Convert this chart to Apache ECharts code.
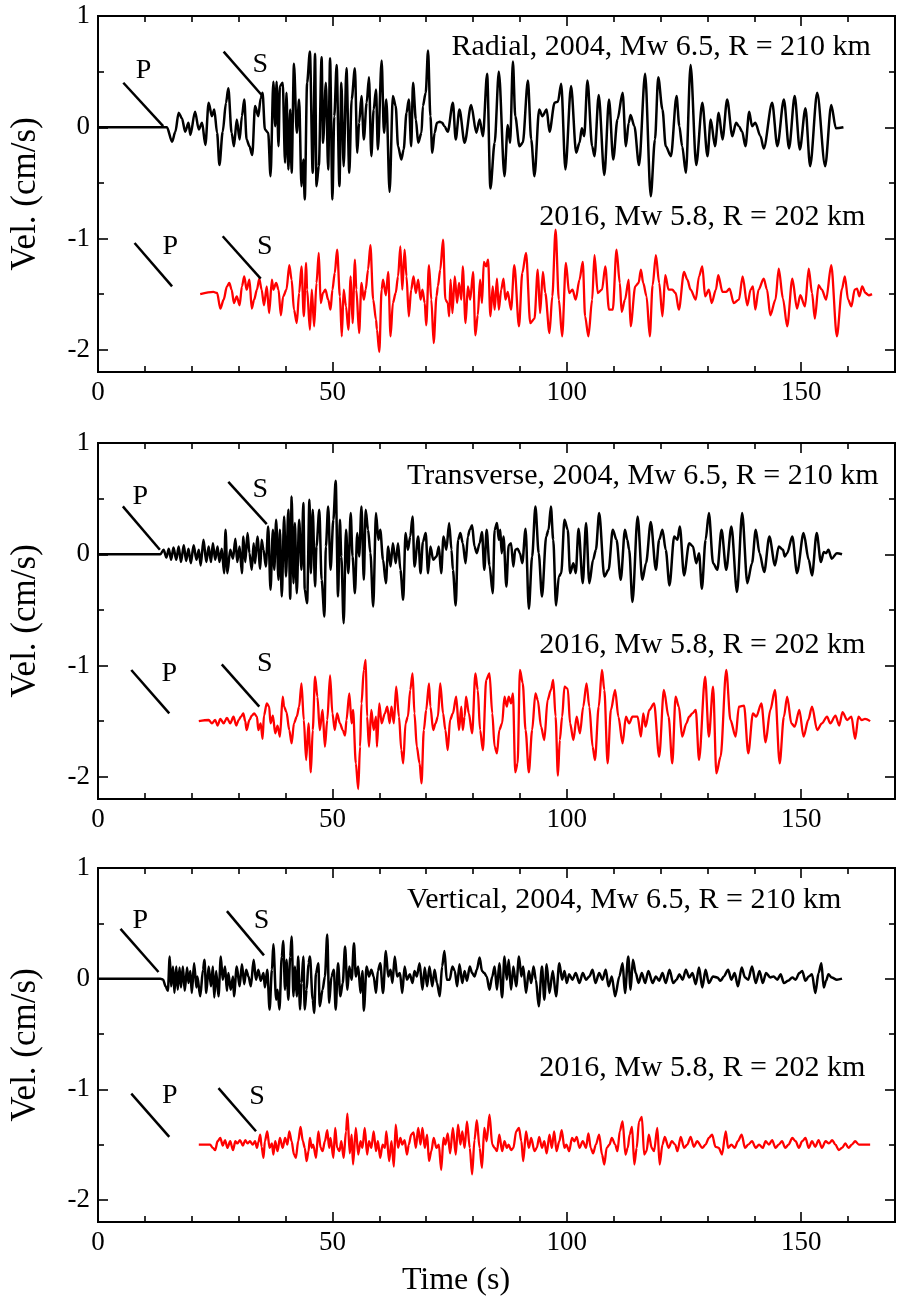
<!DOCTYPE html>
<html><head><meta charset="utf-8">
<script src="https://cdn.jsdelivr.net/npm/echarts@6/dist/echarts.min.js"></script>
<style>html,body{margin:0;padding:0;background:#fff}#c{width:898px;height:1303px}</style>
</head><body><div id="c"></div>
<script>
// ---- tick values ----
const xTicks = [0, 50, 100, 150];
const xMinor = [10, 20, 30, 40, 60, 70, 80, 90, 110, 120, 130, 140, 160];
const yTicks = [-2, -1, 0, 1];
const yMinor = [-1.5, -0.5, 0.5];

// ---- traces [time (s), velocity (cm/s)] ----
const radial04 = [[0,0],[14.7,0],[15.8,-0.13],[16.5,-0.04],[17.2,0.13],[17.9,0.08],[18.6,-0.04],[19.3,0.04],[19.7,-0.07],[20.7,0.14],[21.5,-0.02],[22.2,0.04],[22.9,-0.16],[23.6,0.22],[24.3,0.10],[24.8,0.16],[25.4,-0.05],[25.9,-0.34],[26.6,-0.04],[27.3,0.22],[27.8,0.35],[28.5,-0.05],[29.0,-0.17],[29.6,0.07],[30.2,-0.11],[30.7,0.10],[31.2,0.25],[31.7,-0.11],[32.3,-0.17],[32.9,-0.25],[33.5,0.19],[34.2,0.10],[34.7,0.26],[35.1,0.31],[35.6,-0.02],[36.3,-0.05],[36.8,-0.44],[37.4,0.41],[37.8,0.01],[38.1,0.41],[38.5,-0.17],[38.8,0.37],[39.4,0.40],[39.9,-0.32],[40.2,0.31],[40.6,-0.38],[41.0,0.16],[41.3,-0.41],[41.8,0.57],[42.4,-0.05],[42.9,0.25],[43.4,-0.53],[43.8,-0.29],[44.1,-0.65],[44.6,0.40],[45.2,0.68],[45.8,-0.41],[46.3,0.66],[46.6,-0.53],[47.1,-0.35],[47.7,0.63],[48.0,-0.14],[48.6,0.40],[49.1,-0.38],[49.5,0.62],[50.0,-0.65],[50.4,0.10],[50.9,0.56],[51.5,-0.53],[51.9,0.40],[52.4,-0.35],[53.0,0.53],[53.6,-0.41],[54.1,0.25],[54.8,0.53],[55.3,-0.23],[55.7,0.04],[56.2,0.28],[56.7,-0.11],[57.3,0.22],[57.8,0.45],[58.3,-0.26],[58.8,0.16],[59.3,0.34],[59.7,-0.20],[60.5,0.60],[61.0,-0.05],[61.5,0.25],[62.2,-0.58],[62.9,0.28],[63.5,0.19],[64.0,-0.17],[64.7,-0.29],[65.2,-0.20],[65.8,0.13],[66.3,0.25],[66.8,-0.17],[67.2,0.40],[67.8,0.07],[68.3,-0.14],[69.0,-0.05],[69.3,0.19],[69.9,0.31],[70.4,0.69],[70.9,0.10],[71.3,-0.23],[71.8,-0.05],[72.3,0.04],[72.9,0.05],[73.4,0.04],[73.9,0.01],[74.6,-0.04],[75.7,0.22],[76.3,-0.11],[77.1,0.16],[78.2,-0.14],[79.6,0.20],[80.7,-0.05],[81.4,0.07],[82.1,-0.08],[83.0,0.48],[83.7,-0.55],[84.6,-0.14],[85.5,0.50],[86.7,-0.44],[87.4,0.02],[87.9,-0.14],[88.5,0.59],[89.0,0.10],[89.9,-0.17],[90.6,-0.14],[91.7,0.42],[92.4,-0.11],[93.1,-0.44],[94.1,0.16],[94.8,0.10],[95.7,0.16],[96.3,-0.04],[97.4,0.22],[98.1,0.23],[98.8,0.39],[99.7,-0.38],[100.9,0.37],[102.0,-0.23],[102.7,-0.14],[103.2,-0.01],[103.7,-0.08],[104.4,0.42],[105.4,-0.17],[105.9,-0.26],[106.8,0.29],[108.0,-0.43],[109.0,0.25],[109.9,-0.29],[110.8,0.07],[111.9,0.31],[112.6,-0.17],[113.2,0.04],[113.6,0.11],[114.4,0.01],[115.4,-0.34],[116.7,0.48],[117.9,-0.62],[118.8,-0.11],[119.5,0.45],[120.4,0.16],[121.1,-0.17],[122.2,-0.26],[123.4,0.28],[124.0,0.01],[124.6,-0.17],[125.4,-0.41],[126.4,0.56],[127.6,-0.34],[128.9,0.22],[130.0,-0.26],[130.7,0.07],[131.6,-0.17],[132.4,0.13],[133.2,-0.11],[134.2,0.25],[135.3,-0.08],[136.1,0.04],[136.7,0.01],[137.4,-0.04],[138.1,-0.17],[138.9,0.14],[139.5,0.01],[140.2,0.04],[141.3,-0.08],[142.0,-0.19],[143.8,0.22],[144.9,-0.17],[146.3,0.25],[147.4,-0.19],[148.6,0.28],[149.7,-0.20],[150.9,0.17],[151.9,-0.35],[153.4,0.31],[155.1,-0.35],[156.4,0.20],[157.4,-0.01],[159.0,0]];

const radial16 = [[21.8,-1.50],[24.6,-1.48],[25.4,-1.49],[26.1,-1.63],[26.8,-1.55],[27.5,-1.43],[28.0,-1.40],[28.5,-1.46],[29.0,-1.58],[29.6,-1.52],[30.2,-1.60],[30.7,-1.43],[31.2,-1.34],[31.7,-1.46],[32.3,-1.37],[32.8,-1.63],[33.3,-1.55],[33.9,-1.46],[34.4,-1.36],[34.9,-1.46],[35.4,-1.60],[36.0,-1.43],[36.5,-1.67],[37.1,-1.37],[37.4,-1.46],[38.0,-1.40],[38.5,-1.46],[39.0,-1.69],[39.5,-1.52],[40.2,-1.46],[40.8,-1.24],[41.3,-1.37],[41.8,-1.64],[42.4,-1.76],[42.9,-1.49],[43.4,-1.25],[43.9,-1.70],[44.4,-1.22],[44.6,-1.46],[45.2,-1.82],[45.6,-1.46],[46.1,-1.79],[46.6,-1.40],[47.1,-1.13],[47.5,-1.58],[48.0,-1.49],[48.5,-1.46],[49.1,-1.55],[49.6,-1.64],[50.0,-1.46],[50.5,-1.31],[51.0,-1.10],[51.6,-1.52],[52.0,-1.88],[52.4,-1.46],[52.9,-1.61],[53.4,-1.82],[53.9,-1.34],[54.3,-1.76],[54.8,-1.19],[55.1,-1.46],[55.7,-1.85],[56.2,-1.40],[56.7,-1.55],[57.1,-1.46],[57.6,-1.28],[58.1,-1.06],[58.7,-1.55],[59.3,-1.73],[59.5,-1.82],[60.0,-2.02],[60.5,-1.46],[60.8,-1.37],[61.4,-1.51],[61.9,-1.30],[62.4,-1.88],[62.9,-1.58],[63.5,-1.49],[64.0,-1.34],[64.5,-1.07],[64.9,-1.46],[65.4,-1.10],[65.8,-1.34],[66.3,-1.70],[66.8,-1.46],[67.3,-1.34],[67.8,-1.49],[68.3,-1.37],[68.8,-1.55],[69.2,-1.46],[69.7,-1.58],[70.0,-1.78],[70.6,-1.24],[71.1,-1.55],[71.6,-1.94],[72.2,-1.52],[72.5,-1.43],[73.0,-1.28],[73.6,-1.01],[74.1,-1.55],[74.6,-1.58],[74.9,-1.70],[75.2,-1.37],[75.6,-1.67],[76.1,-1.34],[76.6,-1.58],[77.0,-1.40],[77.5,-1.55],[77.8,-1.25],[78.4,-1.76],[78.9,-1.43],[79.4,-1.55],[80.0,-1.30],[80.5,-1.87],[81.0,-1.69],[81.5,-1.37],[81.9,-1.58],[82.3,-1.21],[82.8,-1.25],[83.2,-1.19],[83.7,-1.70],[84.2,-1.43],[84.6,-1.64],[85.1,-1.36],[85.5,-1.64],[86.0,-1.46],[86.5,-1.36],[86.9,-1.55],[87.4,-1.48],[88.1,-1.64],[88.8,-1.24],[89.8,-1.79],[90.5,-1.31],[91.3,-1.13],[92.2,-1.76],[93.1,-1.72],[93.8,-1.28],[94.3,-1.67],[94.9,-1.30],[95.4,-1.49],[96.3,-1.85],[96.9,-1.52],[97.6,-0.92],[98.3,-1.55],[99.0,-1.88],[99.8,-1.22],[100.5,-1.49],[101.2,-1.46],[101.9,-1.55],[102.7,-1.37],[103.4,-1.21],[103.9,-1.70],[104.6,-1.88],[105.4,-1.55],[105.9,-1.15],[106.6,-1.49],[107.5,-1.46],[108.2,-1.25],[109.0,-1.64],[109.8,-1.64],[110.6,-1.10],[111.3,-1.40],[111.7,-1.66],[112.4,-1.55],[113.2,-1.37],[113.6,-1.79],[114.6,-1.43],[115.3,-1.40],[115.8,-1.28],[116.3,-1.40],[117.0,-1.52],[117.7,-1.88],[118.3,-1.42],[119.0,-1.15],[119.7,-1.40],[120.4,-1.70],[121.0,-1.33],[121.7,-1.46],[122.5,-1.46],[123.2,-1.49],[123.9,-1.64],[125.0,-1.30],[125.7,-1.37],[126.4,-1.46],[127.5,-1.55],[128.2,-1.34],[128.9,-1.25],[129.5,-1.52],[130.3,-1.46],[130.9,-1.58],[131.8,-1.46],[132.3,-1.33],[133.2,-1.48],[134.0,-1.48],[134.7,-1.45],[135.6,-1.58],[136.7,-1.55],[137.5,-1.34],[138.5,-1.60],[139.2,-1.46],[139.7,-1.43],[140.2,-1.64],[140.9,-1.46],[142.0,-1.36],[142.7,-1.46],[143.4,-1.69],[144.5,-1.55],[145.2,-1.27],[146.1,-1.54],[147.0,-1.79],[148.1,-1.36],[149.1,-1.63],[149.8,-1.51],[150.8,-1.61],[151.6,-1.27],[152.3,-1.49],[152.9,-1.72],[153.7,-1.42],[154.4,-1.46],[155.3,-1.55],[156.4,-1.24],[157.6,-1.88],[158.7,-1.45],[159.3,-1.34],[160.0,-1.55],[160.7,-1.61],[161.4,-1.46],[161.9,-1.45],[162.4,-1.52],[163.0,-1.43],[163.7,-1.49],[164.4,-1.51],[165.1,-1.50]];

const trans04 = [[0,0],[13.3,0],[14.0,0.04],[14.6,-0.03],[15.1,0.05],[15.6,-0.05],[16.1,0.06],[16.7,-0.05],[17.2,0.07],[17.7,-0.07],[18.3,0.08],[18.8,-0.06],[19.3,0.05],[19.8,-0.08],[20.4,0.08],[21.0,-0.05],[21.5,0.04],[21.9,-0.10],[22.5,0.13],[23.1,-0.07],[23.6,0.07],[24.1,-0.07],[24.5,0.10],[25.0,-0.05],[25.5,0.07],[25.9,-0.07],[26.4,0.05],[26.9,-0.17],[27.2,0.22],[27.6,-0.17],[28.2,0.04],[28.8,-0.04],[29.3,0.14],[29.7,-0.07],[30.2,0.07],[30.7,-0.17],[31.0,0.16],[31.4,-0.07],[31.9,0.19],[32.3,0.01],[32.8,-0.14],[33.2,0.10],[33.5,-0.08],[34.0,0.16],[34.6,-0.13],[34.9,0.13],[35.3,0.04],[35.8,-0.11],[36.3,0.25],[36.8,-0.32],[37.3,0.22],[37.6,-0.14],[38.0,0.31],[38.5,-0.23],[38.8,0.22],[39.2,-0.38],[39.7,0.34],[40.1,-0.20],[40.6,0.40],[41.0,-0.40],[41.3,0.52],[41.7,-0.26],[42.0,0.28],[42.4,-0.35],[42.9,0.31],[43.4,-0.14],[43.8,0.46],[44.1,-0.32],[44.6,-0.44],[45.1,0.49],[45.4,-0.17],[45.8,0.40],[46.3,-0.29],[46.6,0.07],[47.2,0.40],[47.7,-0.23],[48.3,-0.56],[48.6,0.07],[49.1,0.43],[49.6,-0.14],[50.2,0.31],[50.7,0.66],[51.2,-0.38],[51.6,0.31],[51.9,-0.02],[52.4,-0.62],[52.9,0.22],[53.4,-0.17],[53.9,0.37],[54.3,-0.02],[54.8,-0.35],[55.3,0.19],[55.7,-0.02],[56.2,0.43],[56.7,-0.23],[57.1,0.40],[57.6,0.22],[58.1,0.01],[58.7,-0.47],[59.3,0.37],[59.8,0.13],[60.2,0.22],[60.8,-0.05],[61.4,-0.26],[61.9,0.07],[62.4,-0.11],[62.9,0.10],[63.5,-0.08],[64.0,0.10],[64.5,-0.14],[65.1,-0.41],[65.6,0.19],[66.1,0.04],[66.6,0.16],[67.1,0.34],[67.5,-0.11],[68.3,0.16],[68.8,-0.17],[69.3,0.11],[69.9,0.19],[70.4,-0.17],[70.9,0.07],[71.5,-0.05],[72.2,-0.02],[72.7,0.07],[73.2,-0.17],[73.7,0.16],[74.3,0.04],[74.9,0.28],[75.4,0.04],[75.7,-0.14],[76.3,-0.46],[76.8,0.13],[77.3,0.19],[77.8,0.10],[78.4,-0.08],[78.9,0.16],[79.3,0.22],[79.8,0.26],[80.3,0.07],[80.8,0.01],[81.4,0.10],[81.9,0.20],[82.4,-0.14],[82.9,0.22],[83.5,-0.10],[84.2,-0.35],[84.6,0.22],[85.1,0.28],[85.5,0.13],[85.8,0.22],[86.1,0.01],[86.5,0.16],[87.1,-0.29],[87.6,0.08],[88.1,0.10],[88.6,-0.11],[89.0,0.04],[89.5,0.05],[90.0,0.01],[90.5,-0.08],[91.2,0.23],[91.9,-0.49],[92.6,-0.02],[93.3,0.43],[94.0,0.01],[94.7,-0.38],[95.6,0.16],[96.1,0.22],[96.6,0.43],[97.1,0.13],[97.7,-0.46],[98.3,-0.20],[98.8,-0.17],[99.5,0.31],[100.2,0.22],[100.7,-0.17],[101.4,-0.08],[101.9,-0.17],[102.5,0.23],[103.4,-0.26],[104.1,0.28],[104.8,-0.26],[105.6,-0.05],[106.2,0.04],[106.9,0.37],[108.0,-0.20],[108.9,-0.14],[109.8,0.22],[110.6,0.13],[111.5,-0.23],[112.4,0.22],[112.9,0.13],[113.3,0.04],[114.0,-0.43],[115.1,0.34],[116.1,-0.23],[116.9,-0.08],[117.9,0.29],[119.0,-0.14],[119.7,0.13],[120.4,0.22],[121.1,0.04],[121.9,-0.28],[122.9,0.16],[123.6,0.13],[124.1,0.25],[125.0,-0.19],[126.1,0.10],[126.9,0.07],[127.6,-0.08],[128.2,0.01],[128.8,-0.31],[129.6,0.13],[130.3,0.37],[131.2,-0.08],[132.1,-0.14],[133.0,0.22],[134.0,-0.14],[135.1,0.25],[136.3,-0.34],[137.4,0.37],[138.5,-0.26],[139.5,-0.08],[140.3,0.22],[141.1,0.01],[142.1,-0.16],[143.2,0.16],[144.4,-0.10],[145.2,0.07],[146.1,0.04],[146.5,-0.02],[147.0,0.01],[148.1,0.16],[149.1,-0.17],[150.5,0.19],[151.6,-0.05],[152.3,-0.19],[153.3,0.19],[154.2,-0.07],[154.8,0.02],[155.3,0.01],[155.8,0.04],[156.5,-0.04],[157.6,0.01],[158.7,0]];

const trans16 = [[21.5,-1.50],[23.6,-1.49],[24.3,-1.52],[25.0,-1.49],[25.5,-1.54],[26.1,-1.48],[26.8,-1.52],[27.5,-1.47],[28.2,-1.52],[28.9,-1.46],[29.5,-1.54],[30.0,-1.49],[30.5,-1.46],[31.0,-1.43],[31.4,-1.50],[31.7,-1.58],[32.3,-1.49],[32.8,-1.45],[33.3,-1.43],[33.9,-1.46],[34.2,-1.58],[34.7,-1.52],[35.1,-1.66],[35.4,-1.45],[36.0,-1.34],[36.5,-1.37],[36.8,-1.52],[37.3,-1.45],[37.8,-1.61],[38.3,-1.54],[38.8,-1.64],[39.4,-1.28],[39.7,-1.37],[40.2,-1.42],[40.8,-1.58],[41.3,-1.70],[41.8,-1.52],[42.4,-1.46],[42.9,-1.37],[43.4,-1.16],[43.9,-1.49],[44.4,-1.85],[44.9,-1.52],[45.4,-1.96],[45.8,-1.58],[46.3,-1.10],[46.8,-1.28],[47.3,-1.58],[47.9,-1.40],[48.4,-1.73],[48.9,-1.49],[49.5,-1.09],[50.0,-1.43],[50.5,-1.58],[51.0,-1.43],[51.6,-1.52],[52.2,-1.58],[52.7,-1.63],[53.0,-1.49],[53.6,-1.25],[54.1,-1.52],[54.4,-1.40],[55.0,-1.88],[55.5,-2.11],[55.9,-1.73],[56.2,-1.34],[56.7,-1.04],[57.1,-0.95],[57.4,-1.46],[57.8,-1.73],[58.3,-1.40],[58.8,-1.58],[59.3,-1.46],[59.5,-1.73],[60.0,-1.34],[60.5,-1.52],[61.2,-1.43],[61.7,-1.37],[62.2,-1.52],[62.6,-1.37],[63.1,-1.52],[63.6,-1.19],[64.2,-1.46],[64.7,-1.76],[65.1,-1.88],[65.6,-1.52],[66.1,-1.46],[66.6,-1.22],[67.1,-1.07],[67.5,-1.43],[68.0,-1.73],[68.6,-1.88],[69.0,-2.06],[69.5,-1.58],[70.0,-1.40],[70.6,-1.16],[70.9,-1.37],[71.5,-1.58],[72.0,-1.52],[72.5,-1.46],[73.0,-1.16],[73.6,-1.43],[74.1,-1.58],[74.6,-1.76],[75.1,-1.49],[75.7,-1.43],[76.4,-1.28],[77.0,-1.58],[77.5,-1.37],[77.8,-1.58],[78.2,-1.46],[78.5,-1.28],[79.1,-1.43],[79.8,-1.61],[80.5,-1.07],[81.0,-1.22],[81.5,-1.58],[82.1,-1.76],[82.8,-1.13],[83.5,-1.07],[84.1,-1.43],[84.6,-1.73],[85.1,-1.79],[85.6,-1.58],[86.2,-1.52],[86.7,-1.28],[87.2,-1.37],[87.6,-1.28],[88.1,-1.34],[88.5,-1.25],[89.0,-1.96],[89.5,-1.88],[90.0,-1.04],[90.6,-1.16],[91.2,-1.58],[91.9,-1.96],[92.6,-1.58],[93.3,-1.25],[93.8,-1.31],[94.5,-1.55],[95.2,-1.67],[95.9,-1.31],[96.6,-1.22],[97.1,-1.13],[97.6,-1.46],[98.1,-1.99],[98.5,-1.67],[99.0,-1.46],[99.5,-1.19],[100.2,-1.21],[100.7,-1.52],[101.4,-1.67],[102.1,-1.46],[102.8,-1.61],[103.5,-1.37],[104.2,-1.16],[104.8,-1.37],[105.5,-1.73],[106.0,-1.85],[106.8,-1.37],[107.5,-1.04],[108.0,-1.22],[108.7,-1.88],[109.4,-1.40],[110.3,-1.22],[111.0,-1.46],[111.9,-1.70],[112.6,-1.46],[113.3,-1.52],[114.0,-1.46],[115.1,-1.46],[115.8,-1.64],[116.3,-1.43],[116.8,-1.55],[117.6,-1.40],[118.6,-1.34],[119.7,-1.82],[120.7,-1.22],[121.7,-1.46],[122.5,-1.88],[123.2,-1.28],[123.9,-1.37],[124.6,-1.64],[125.5,-1.52],[126.1,-1.46],[126.8,-1.43],[127.5,-1.40],[128.2,-1.85],[129.5,-1.10],[130.3,-1.64],[131.2,-1.19],[131.9,-1.97],[132.8,-1.82],[134.0,-1.04],[134.9,-1.49],[136.0,-1.64],[136.7,-1.37],[137.8,-1.36],[138.7,-1.79],[139.7,-1.43],[140.4,-1.46],[141.5,-1.34],[142.4,-1.69],[143.4,-1.40],[144.4,-1.22],[145.4,-1.88],[146.3,-1.46],[147.0,-1.28],[147.9,-1.52],[148.6,-1.55],[149.6,-1.40],[150.5,-1.64],[151.5,-1.49],[152.3,-1.37],[153.4,-1.58],[154.4,-1.52],[155.5,-1.46],[156.2,-1.52],[157.3,-1.45],[158.1,-1.54],[158.8,-1.42],[159.8,-1.49],[160.7,-1.46],[161.5,-1.66],[162.2,-1.46],[162.9,-1.49],[163.6,-1.48],[164.7,-1.50]];

const vert04 = [[0,0],[13.3,0],[13.9,-0.01],[14.4,-0.07],[14.9,-0.11],[15.3,0.20],[15.6,-0.07],[16.0,0.11],[16.3,-0.13],[16.7,0.11],[17.0,-0.10],[17.4,0.10],[17.7,-0.08],[18.1,0.11],[18.5,-0.11],[19.0,0.10],[19.3,-0.04],[19.7,0.07],[20.0,-0.13],[20.5,0.14],[21.0,-0.08],[21.2,0.02],[21.8,-0.16],[22.4,0.08],[22.7,0.17],[23.1,-0.13],[23.6,0.11],[24.1,-0.07],[24.5,0.11],[24.8,-0.17],[25.2,0.07],[25.7,-0.16],[26.2,0.20],[26.6,-0.01],[27.1,0.11],[27.5,-0.11],[27.8,0.05],[28.3,-0.10],[28.8,0.02],[29.0,-0.16],[29.6,0.11],[30.2,-0.07],[30.7,0.13],[31.2,-0.05],[31.6,0.08],[32.1,0.02],[32.6,-0.07],[33.2,0.17],[33.7,-0.01],[34.2,0.08],[34.7,-0.02],[35.3,0.05],[35.6,-0.08],[36.1,0.08],[36.6,-0.28],[37.1,0.08],[37.4,0.31],[38.0,-0.19],[38.3,-0.10],[38.7,-0.28],[39.2,0.20],[39.5,0.34],[39.9,-0.10],[40.2,0.17],[40.6,-0.19],[41.0,0.20],[41.3,0.38],[41.7,-0.16],[42.0,0.11],[42.4,-0.16],[42.7,0.20],[43.1,-0.28],[43.4,-0.04],[43.8,0.20],[44.1,-0.28],[44.5,-0.10],[44.9,0.14],[45.2,0.20],[45.8,-0.19],[46.1,-0.31],[46.5,0.05],[47.0,0.14],[47.3,-0.25],[47.9,-0.10],[48.4,0.02],[48.9,0.40],[49.3,-0.22],[49.8,0.02],[50.3,0.08],[50.7,-0.28],[51.2,0.14],[51.7,-0.16],[52.2,-0.04],[52.7,0.29],[53.2,-0.10],[53.6,0.11],[54.1,-0.01],[54.6,0.32],[55.0,0.02],[55.5,0.11],[56.0,-0.13],[56.4,0.07],[56.7,-0.29],[57.3,0.11],[57.8,0.02],[58.3,0.08],[58.8,0.02],[59.3,-0.13],[59.7,0.07],[60.2,0.14],[60.8,-0.13],[61.4,0.25],[61.9,0.02],[62.4,0.08],[62.8,-0.04],[63.3,0.20],[63.8,0.02],[64.4,0.05],[64.9,-0.13],[65.4,0.11],[65.9,-0.01],[66.5,0.04],[67.1,-0.04],[67.5,0.07],[68.0,0.02],[68.6,0.14],[69.2,-0.10],[69.7,0.10],[70.2,-0.07],[70.7,0.11],[71.3,-0.07],[71.8,0.08],[72.3,-0.04],[72.9,-0.16],[73.4,0.11],[73.9,0.25],[74.4,-0.01],[75.0,-0.01],[75.6,0.11],[76.1,0.07],[76.6,-0.07],[77.1,0.13],[77.7,-0.04],[78.2,0.07],[78.7,-0.02],[79.3,0.11],[79.8,0.05],[80.3,0.02],[80.8,0.08],[81.4,0.19],[81.9,0.07],[82.4,0.05],[82.9,0.02],[83.5,-0.10],[84.1,0.02],[84.6,0.11],[85.1,-0.10],[85.6,0.14],[86.2,-0.17],[86.7,0.20],[87.2,-0.01],[87.6,0.17],[88.1,-0.10],[88.6,0.11],[89.2,-0.07],[89.8,0.20],[90.3,0.02],[90.7,0.11],[91.3,-0.13],[91.9,0.07],[92.4,-0.04],[92.9,0.11],[93.4,-0.01],[94.0,-0.25],[94.7,0.11],[95.2,-0.19],[95.7,0.13],[96.3,-0.13],[97.0,0.07],[97.7,-0.16],[98.4,0.14],[99.0,-0.01],[99.5,0.07],[100.0,-0.04],[100.5,0.04],[101.2,-0.01],[101.9,0.05],[102.7,-0.04],[103.4,0.05],[104.1,-0.01],[104.8,0.02],[105.5,0.08],[106.1,-0.04],[106.9,0.05],[107.6,-0.01],[108.3,0.08],[108.9,-0.07],[109.6,0.02],[110.3,-0.16],[111.2,0.02],[111.9,0.14],[112.4,-0.13],[113.1,0.20],[113.6,-0.10],[114.1,0.17],[114.7,0.05],[115.3,-0.04],[116.0,0.05],[116.7,-0.04],[117.4,0.07],[118.3,-0.04],[119.0,0.02],[119.7,-0.02],[120.4,0.05],[121.1,-0.04],[121.9,0.08],[122.7,-0.04],[123.4,-0.01],[124.0,0.04],[124.7,-0.01],[125.4,0.08],[126.1,0.01],[126.8,0.05],[127.5,-0.05],[128.2,0.10],[128.9,-0.08],[129.6,0.08],[130.3,-0.04],[131.2,0.02],[132.1,0.01],[132.8,-0.02],[133.5,0.02],[134.4,0.08],[135.1,-0.01],[135.8,0.05],[136.5,-0.07],[137.3,0.10],[138.0,0.01],[138.7,-0.01],[139.5,0.11],[140.3,-0.04],[141.1,0.07],[141.8,-0.04],[142.5,0.05],[143.4,0.01],[144.1,0.02],[144.9,-0.01],[145.6,0.04],[146.3,-0.04],[147.2,-0.02],[148.1,0.01],[148.8,-0.01],[149.6,0.05],[150.2,0.07],[150.9,-0.02],[151.6,0.02],[152.3,0.04],[153.0,-0.13],[153.7,0.05],[154.3,0.14],[154.8,-0.08],[155.3,-0.02],[155.8,0.04],[156.5,0.01],[157.6,-0.01],[158.7,0]];

const vert16 = [[21.5,-1.50],[23.9,-1.50],[24.5,-1.53],[25.0,-1.55],[25.5,-1.47],[26.1,-1.44],[26.6,-1.51],[27.1,-1.46],[27.6,-1.53],[28.2,-1.47],[28.8,-1.55],[29.3,-1.47],[29.7,-1.49],[30.3,-1.46],[30.9,-1.51],[31.4,-1.46],[31.9,-1.49],[32.4,-1.47],[33.0,-1.50],[33.5,-1.47],[33.9,-1.53],[34.2,-1.48],[34.6,-1.41],[34.9,-1.52],[35.3,-1.62],[35.6,-1.47],[36.1,-1.38],[36.6,-1.53],[37.1,-1.49],[37.4,-1.59],[37.8,-1.47],[38.3,-1.56],[38.8,-1.44],[39.4,-1.53],[39.9,-1.44],[40.4,-1.50],[40.8,-1.38],[41.3,-1.47],[41.8,-1.59],[42.2,-1.62],[42.7,-1.47],[43.2,-1.34],[43.7,-1.47],[44.1,-1.53],[44.5,-1.65],[44.9,-1.56],[45.2,-1.44],[45.6,-1.53],[45.9,-1.50],[46.5,-1.62],[47.0,-1.38],[47.5,-1.53],[47.9,-1.56],[48.4,-1.47],[48.9,-1.37],[49.3,-1.53],[49.6,-1.44],[50.2,-1.62],[50.6,-1.35],[51.0,-1.53],[51.5,-1.56],[51.9,-1.47],[52.4,-1.62],[52.9,-1.38],[53.2,-1.22],[53.7,-1.58],[54.1,-1.41],[54.4,-1.68],[55.0,-1.35],[55.5,-1.59],[56.0,-1.47],[56.4,-1.53],[56.9,-1.35],[57.4,-1.59],[57.8,-1.47],[58.3,-1.53],[58.8,-1.38],[59.3,-1.56],[59.7,-1.47],[60.2,-1.62],[60.7,-1.50],[61.2,-1.53],[61.5,-1.38],[62.1,-1.65],[62.6,-1.47],[63.1,-1.70],[63.5,-1.32],[64.0,-1.53],[64.5,-1.44],[64.9,-1.50],[65.4,-1.46],[65.9,-1.59],[66.3,-1.50],[66.8,-1.41],[67.3,-1.39],[67.8,-1.53],[68.3,-1.35],[68.8,-1.50],[69.2,-1.35],[69.7,-1.53],[70.2,-1.41],[70.6,-1.65],[71.1,-1.56],[71.6,-1.44],[72.2,-1.53],[72.7,-1.50],[73.2,-1.73],[73.7,-1.44],[74.1,-1.50],[74.6,-1.40],[75.1,-1.58],[75.7,-1.35],[76.3,-1.59],[76.8,-1.32],[77.3,-1.50],[77.7,-1.38],[78.2,-1.53],[78.7,-1.29],[79.3,-1.53],[79.8,-1.77],[80.3,-1.46],[80.8,-1.28],[81.4,-1.53],[81.9,-1.71],[82.4,-1.35],[82.9,-1.47],[83.5,-1.23],[84.1,-1.50],[84.6,-1.53],[85.1,-1.56],[85.6,-1.41],[86.2,-1.56],[86.7,-1.47],[87.2,-1.53],[87.6,-1.50],[88.1,-1.55],[88.6,-1.53],[89.2,-1.38],[89.8,-1.35],[90.3,-1.47],[90.7,-1.65],[91.3,-1.38],[91.9,-1.53],[92.4,-1.44],[93.1,-1.56],[93.6,-1.53],[94.1,-1.43],[94.7,-1.53],[95.2,-1.47],[95.7,-1.58],[96.3,-1.41],[96.8,-1.53],[97.3,-1.38],[97.8,-1.56],[98.4,-1.47],[98.9,-1.37],[99.5,-1.53],[99.9,-1.50],[100.5,-1.56],[101.1,-1.44],[101.6,-1.47],[102.1,-1.43],[102.7,-1.53],[103.4,-1.47],[104.1,-1.53],[104.6,-1.40],[105.1,-1.53],[105.6,-1.58],[106.2,-1.50],[106.9,-1.41],[107.5,-1.59],[108.0,-1.68],[108.5,-1.53],[109.1,-1.50],[109.6,-1.44],[110.3,-1.50],[110.8,-1.56],[111.3,-1.38],[111.9,-1.29],[112.5,-1.59],[113.0,-1.53],[113.4,-1.41],[113.9,-1.34],[114.4,-1.68],[114.9,-1.53],[115.4,-1.29],[116.0,-1.25],[116.5,-1.59],[117.0,-1.56],[117.5,-1.41],[118.1,-1.53],[118.6,-1.56],[119.3,-1.35],[119.8,-1.68],[120.4,-1.50],[120.9,-1.43],[121.7,-1.53],[122.4,-1.47],[123.1,-1.50],[123.6,-1.56],[124.3,-1.43],[125.0,-1.53],[125.7,-1.50],[126.4,-1.43],[127.1,-1.52],[127.8,-1.47],[128.9,-1.53],[129.6,-1.50],[130.3,-1.44],[131.0,-1.41],[131.7,-1.52],[132.4,-1.53],[133.1,-1.59],[133.9,-1.38],[134.4,-1.53],[135.1,-1.50],[135.8,-1.53],[136.5,-1.47],[137.3,-1.41],[138.0,-1.53],[138.7,-1.50],[139.5,-1.47],[140.3,-1.53],[141.0,-1.50],[141.8,-1.53],[142.4,-1.47],[143.1,-1.50],[143.8,-1.46],[144.5,-1.53],[145.2,-1.50],[145.9,-1.47],[146.6,-1.53],[147.3,-1.50],[148.1,-1.44],[148.8,-1.47],[149.5,-1.53],[150.2,-1.47],[150.9,-1.44],[151.6,-1.53],[152.3,-1.47],[153.0,-1.52],[153.7,-1.46],[154.4,-1.53],[155.2,-1.47],[155.9,-1.49],[156.6,-1.46],[157.3,-1.50],[158.0,-1.55],[158.7,-1.53],[159.4,-1.49],[160.1,-1.53],[160.8,-1.50],[161.5,-1.47],[162.3,-1.50],[163.0,-1.50],[164.7,-1.50]];

// ---- phase markers per panel: [t1, v1, t2, v2] ----
const phaseLines = [
  [[5.4,0.40,13.9,0.01],[26.8,0.68,34.9,0.29],[7.8,-1.04,15.8,-1.43],[26.6,-0.98,34.7,-1.36]],
  [[5.3,0.43,13.2,0.04],[27.8,0.65,36.0,0.27],[7.1,-1.04,15.2,-1.43],[26.4,-0.99,34.4,-1.37]],
  [[4.8,0.45,12.9,0.06],[27.5,0.61,35.4,0.21],[7.1,-1.04,15.2,-1.43],[25.7,-0.99,33.7,-1.38]]
];
// phase labels per panel: [t, v, text]
const phaseLabels = [
  [[9.7,0.51,'P'],[34.6,0.56,'S'],[15.4,-1.07,'P'],[35.6,-1.07,'S']],
  [[9.0,0.52,'P'],[34.6,0.58,'S'],[15.2,-1.07,'P'],[35.6,-0.98,'S']],
  [[9.0,0.52,'P'],[34.9,0.52,'S'],[15.3,-1.06,'P'],[33.9,-1.07,'S']]
];
// event captions per panel: [t (left edge), v, text]
const captions = [
  [[75.4,0.72,'Radial, 2004, Mw 6.5, R = 210 km'],[94.1,-0.81,'2016, Mw 5.8, R = 202 km']],
  [[65.9,0.70,'Transverse, 2004, Mw 6.5, R = 210 km'],[94.1,-0.82,'2016, Mw 5.8, R = 202 km']],
  [[65.9,0.71,'Vertical, 2004, Mw 6.5, R = 210 km'],[94.1,-0.81,'2016, Mw 5.8, R = 202 km']]
];
const traces2004 = [radial04, trans04, vert04];
const traces2016 = [radial16, trans16, vert16];

// ---- layout / styling ----
const FONT = '"Liberation Serif", "Times New Roman", serif';
const tops = [16, 443, 868];
const heights = [356, 356, 354];
const grid = [], xAxis = [], yAxis = [], series = [];

tops.forEach((top, i) => {
  grid.push({left: 97, width: 798, top: top, height: heights[i]});
  const line = {show: true, onZero: false, lineStyle: {color: '#000', width: 2}};
  const xBase = {type: 'value', gridIndex: i, min: 0, max: 170, splitLine: {show: false}, axisLine: line};
  const yBase = {type: 'value', gridIndex: i, min: -2.2, max: 1, splitLine: {show: false}, axisLine: line};
  const lab = {show: true, fontFamily: FONT, fontSize: 27, color: '#000'};
  const tick = (len, vals) => ({show: true, inside: true, length: len, lineStyle: {width: 1.6, color: '#000'}, customValues: vals});
  xAxis.push(Object.assign({}, xBase, {position: 'bottom', axisTick: tick(10, xTicks),
    axisLabel: Object.assign({}, lab, {margin: 7, customValues: xTicks})}));
  xAxis.push(Object.assign({}, xBase, {position: 'bottom', axisTick: tick(6, xMinor), axisLabel: {show: false}}));
  xAxis.push(Object.assign({}, xBase, {position: 'top', axisTick: tick(10, xTicks), axisLabel: {show: false}}));
  xAxis.push(Object.assign({}, xBase, {position: 'top', axisTick: tick(6, xMinor), axisLabel: {show: false}}));
  yAxis.push(Object.assign({}, yBase, {position: 'left',
    name: 'Vel. (cm/s)', nameLocation: 'middle', nameGap: 55,
    nameTextStyle: {fontFamily: FONT, fontSize: 35, color: '#000'},
    axisTick: tick(10, yTicks),
    axisLabel: Object.assign({}, lab, {margin: 8, customValues: yTicks})}));
  yAxis.push(Object.assign({}, yBase, {position: 'left', axisTick: tick(6, yMinor), axisLabel: {show: false}}));
  yAxis.push(Object.assign({}, yBase, {position: 'right', axisTick: tick(10, yTicks), axisLabel: {show: false}}));
  yAxis.push(Object.assign({}, yBase, {position: 'right', axisTick: tick(6, yMinor), axisLabel: {show: false}}));

  const xi = 4 * i, yi = 4 * i;
  series.push({type: 'line', xAxisIndex: xi, yAxisIndex: yi, data: traces2004[i],
    showSymbol: false, symbol: 'none', smooth: 0.3, smoothMonotone: 'x',
    lineStyle: {color: '#000', width: 2.5}, z: 3, silent: true});
  series.push({type: 'line', xAxisIndex: xi, yAxisIndex: yi, data: traces2016[i],
    showSymbol: false, symbol: 'none', smooth: 0.3, smoothMonotone: 'x',
    lineStyle: {color: '#ff0000', width: 2.3}, z: 3, silent: true});
  series.push({type: 'lines', coordinateSystem: 'cartesian2d', xAxisIndex: xi, yAxisIndex: yi,
    data: phaseLines[i].map(s => ({coords: [[s[0], s[1]], [s[2], s[3]]]})),
    lineStyle: {color: '#000', width: 2.5, opacity: 1}, silent: true, z: 4});
  const txt = (size, align) => ({show: true, position: 'inside', formatter: '{b}', fontFamily: FONT, fontSize: size,
    color: '#000', textBorderWidth: 0, textBorderColor: 'transparent', opacity: 1, align: align, verticalAlign: 'middle'});
  series.push({type: 'scatter', xAxisIndex: xi, yAxisIndex: yi, symbolSize: 0, silent: true, z: 5,
    itemStyle: {color: '#000'},
    data: phaseLabels[i].map(p => ({value: [p[0], p[1]], name: p[2]})), label: txt(28, 'center')});
  series.push({type: 'scatter', xAxisIndex: xi, yAxisIndex: yi, symbolSize: 0, silent: true, z: 5,
    itemStyle: {color: '#000'},
    data: captions[i].map(p => ({value: [p[0], p[1]], name: p[2]})), label: txt(30, 'left')});
});

const chart = echarts.init(document.getElementById('c'), null, {renderer: 'canvas'});
chart.setOption({
  animation: false,
  backgroundColor: '#fff',
  grid, xAxis, yAxis, series,
  graphic: [{type: 'text', x: 456, y: 1281,
    style: {text: 'Time (s)', font: '32px "Liberation Serif", serif', fill: '#000', align: 'center', verticalAlign: 'middle'}}]
});
</script>
</body></html>
